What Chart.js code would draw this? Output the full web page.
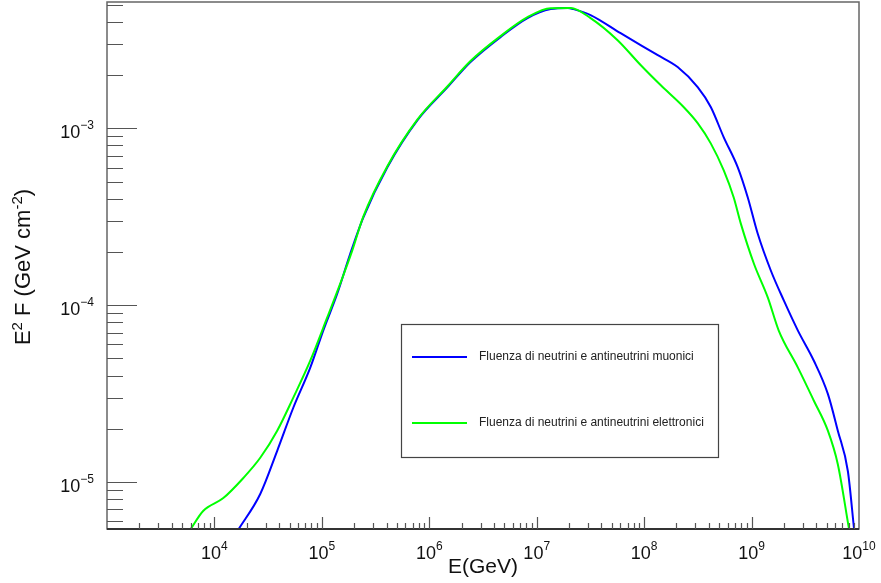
<!DOCTYPE html>
<html>
<head>
<meta charset="utf-8">
<script src="https://cdn.jsdelivr.net/npm/chart.js@4.4.1/dist/chart.umd.min.js"></script>
<style>
    html, body { margin: 0; padding: 0; background: #fff; }
    #wrap { width: 881px; height: 583px; }
</style>
</head>
<body>
<div id="wrap"><canvas id="fluence" width="881" height="583"></canvas></div>
<script>
// energies in GeV, E^2 F in GeV cm^-2
const muonEnergy = [1.66e4, 2.67e4, 3.84e4, 5.41e4, 7.80e4, 1.03e5, 1.39e5, 1.84e5, 2.43e5, 4.06e5,
    7.74e5, 1.48e6, 2.42e6, 4.60e6, 8.21e6, 1.35e7, 1.94e7, 2.20e7, 3.17e7, 6.04e7,
    1.34e8, 2.05e8, 3.15e8, 4.17e8, 5.51e8, 7.44e8, 9.22e8, 1.14e9, 1.51e9, 2.00e9,
    2.70e9, 3.80e9, 5.13e9, 6.35e9, 7.88e9, 8.98e9];
const muonFluence = [5.35e-6, 8.55e-6, 1.50e-5, 2.62e-5, 4.43e-5, 7.18e-5, 1.16e-4, 1.96e-4, 3.13e-4, 6.01e-4,
    1.11e-3, 1.71e-3, 2.37e-3, 3.28e-3, 4.20e-3, 4.72e-3, 4.79e-3, 4.72e-3, 4.37e-3, 3.45e-3,
    2.59e-3, 2.22e-3, 1.71e-3, 1.32e-3, 8.89e-4, 6.01e-4, 4.06e-4, 2.54e-4, 1.57e-4, 1.06e-4,
    7.18e-5, 4.85e-5, 3.15e-5, 1.95e-5, 1.15e-5, 5.48e-6];

const electronEnergy = [5.94e3, 7.85e3, 1.21e4, 1.85e4, 2.67e4, 3.84e4, 5.41e4, 7.80e4, 1.12e5, 1.48e5,
    1.92e5, 2.43e5, 4.06e5, 7.74e5, 1.48e6, 2.42e6, 4.60e6, 8.21e6, 1.35e7, 2.07e7,
    3.17e7, 5.66e7, 9.27e7, 1.43e8, 2.33e8, 3.15e8, 4.17e8, 5.51e8, 6.82e8, 7.93e8,
    1.05e9, 1.42e9, 1.79e9, 2.70e9, 3.80e9, 5.13e9, 6.35e9, 8.05e9];
const electronFluence = [5.35e-6, 6.85e-6, 8.11e-6, 1.05e-5, 1.37e-5, 1.95e-5, 2.99e-5, 4.85e-5, 8.49e-5, 1.32e-4,
    2.04e-4, 3.17e-4, 6.09e-4, 1.12e-3, 1.73e-3, 2.40e-3, 3.32e-3, 4.25e-3, 4.78e-3, 4.79e-3,
    4.20e-3, 3.15e-3, 2.28e-3, 1.75e-3, 1.32e-3, 1.07e-3, 8.22e-4, 5.78e-4, 4.06e-4, 2.90e-4,
    1.72e-4, 1.10e-4, 7.18e-5, 4.43e-5, 2.88e-5, 1.95e-5, 1.26e-5, 5.48e-6];

const seriesLabels = ['Fluenza di neutrini e antineutrini muonici', 'Fluenza di neutrini e antineutrini elettronici'];
const xTickExponents = [4, 5, 6, 7, 8, 9, 10];
const yTickExponents = [-5, -4, -3];

const FONT = '"Liberation Sans", Arial, Helvetica, sans-serif';

function toPoints(xs, ys) {
    return xs.map((x, i) => ({ x: x, y: ys[i] }));
}

// "10" with a raised exponent, ROOT style
function drawPower(ctx, exp, x, y, align) {
    const sup = exp < 0 ? '\u2212' + (-exp) : String(exp);
    ctx.font = '18px ' + FONT;
    const bw = ctx.measureText('10').width;
    ctx.font = '12px ' + FONT;
    const sw = ctx.measureText(sup).width;
    const left = align === 'center' ? x - (bw + sw) / 2 : x - bw - sw;
    ctx.textAlign = 'left';
    ctx.textBaseline = 'alphabetic';
    ctx.font = '18px ' + FONT;
    ctx.fillText('10', left, y);
    ctx.font = '12px ' + FONT;
    ctx.fillText(sup, left + bw, y - 9);
}

// draw a run of [text, size, raise] pieces centred on cx,cy
function drawPieces(ctx, pieces, cx, cy, rotate) {
    let total = 0;
    pieces.forEach(p => { ctx.font = p[1] + 'px ' + FONT; total += ctx.measureText(p[0]).width; });
    ctx.save();
    ctx.translate(cx, cy);
    if (rotate) ctx.rotate(-Math.PI / 2);
    ctx.textAlign = 'left';
    ctx.textBaseline = 'alphabetic';
    let pos = -total / 2;
    pieces.forEach(p => {
        ctx.font = p[1] + 'px ' + FONT;
        ctx.fillText(p[0], pos, -p[2]);
        pos += ctx.measureText(p[0]).width;
    });
    ctx.restore();
}

const rootFrame = {
    id: 'rootFrame',
    afterDraw(chart) {
        const ctx = chart.ctx;
        const area = chart.chartArea;
        const xs = chart.scales.x;
        const ys = chart.scales.y;

        ctx.save();
        ctx.fillStyle = '#111';

        // frame
        ctx.strokeStyle = '#666';
        ctx.lineWidth = 1.5;
        ctx.strokeRect(area.left, area.top, area.right - area.left, area.bottom - area.top);
        ctx.strokeStyle = '#333';
        ctx.lineWidth = 2;
        ctx.beginPath();
        ctx.moveTo(area.left, area.bottom);
        ctx.lineTo(area.right, area.bottom);
        ctx.stroke();

        // x ticks
        ctx.strokeStyle = '#555';
        ctx.lineWidth = 1.2;
        ctx.beginPath();
        for (let n = 3; n < 10; n++) {
            for (let k = 1; k < 10; k++) {
                const v = k * Math.pow(10, n);
                const px = Math.round(xs.getPixelForValue(v)) + 0.5;
                if (px < area.left + 1 || px > area.right - 1) continue;
                const len = k === 1 ? 12 : 6;
                ctx.moveTo(px, area.bottom);
                ctx.lineTo(px, area.bottom - len);
            }
        }
        // y ticks
        for (let n = -6; n < -2; n++) {
            for (let k = 1; k < 10; k++) {
                const v = k * Math.pow(10, n);
                const py = Math.round(ys.getPixelForValue(v)) + 0.5;
                if (py < area.top + 1 || py > area.bottom - 1) continue;
                const len = k === 1 ? 30 : 16;
                ctx.moveTo(area.left, py);
                ctx.lineTo(area.left + len, py);
            }
        }
        ctx.stroke();

        // tick labels
        xTickExponents.forEach(e => {
            drawPower(ctx, e, xs.getPixelForValue(Math.pow(10, e)), area.bottom + 30, 'center');
        });
        yTickExponents.forEach(e => {
            drawPower(ctx, e, 94, ys.getPixelForValue(Math.pow(10, e)) + 10, 'right');
        });

        // axis titles
        drawPieces(ctx, [['E(GeV)', 21, 0]], 483, 573, false);
        drawPieces(ctx, [['E', 22, 0], ['2', 15, 8], [' F (GeV cm', 22, 0], ['-2', 15, 8], [')', 22, 0]], 30, 267, true);

        // legend box
        const box = { left: 401, top: 324, right: 718, bottom: 457 };
        ctx.fillStyle = '#fff';
        ctx.fillRect(box.left, box.top, box.right - box.left, box.bottom - box.top);
        ctx.strokeStyle = '#444';
        ctx.lineWidth = 1.2;
        ctx.strokeRect(box.left + 0.5, box.top + 0.5, box.right - box.left, box.bottom - box.top);
        const rows = [357, 423];
        chart.data.datasets.forEach((ds, i) => {
            ctx.strokeStyle = ds.borderColor;
            ctx.lineWidth = 2;
            ctx.beginPath();
            ctx.moveTo(412, rows[i]);
            ctx.lineTo(467, rows[i]);
            ctx.stroke();
            ctx.fillStyle = '#222';
            ctx.font = '12px ' + FONT;
            ctx.textAlign = 'left';
            ctx.textBaseline = 'middle';
            ctx.fillText(ds.label, 479, rows[i]);
        });
        ctx.restore();
    }
};

const chart = new Chart(document.getElementById('fluence'), {
    type: 'line',
    data: {
        datasets: [
            {
                label: seriesLabels[0],
                data: toPoints(muonEnergy, muonFluence),
                borderColor: '#0000ff',
                borderWidth: 2,
                pointRadius: 0,
                cubicInterpolationMode: 'monotone',
                order: 1
            },
            {
                label: seriesLabels[1],
                data: toPoints(electronEnergy, electronFluence),
                borderColor: '#00ff00',
                borderWidth: 2,
                pointRadius: 0,
                cubicInterpolationMode: 'monotone',
                order: 0
            }
        ]
    },
    options: {
        responsive: false,
        devicePixelRatio: 1,
        animation: false,
        layout: { padding: { left: 107, top: 2, right: 22, bottom: 54 } },
        plugins: {
            legend: { display: false },
            tooltip: { enabled: false }
        },
        scales: {
            x: {
                type: 'logarithmic',
                min: 1e3,
                max: 1e10,
                ticks: { display: false },
                grid: { display: false },
                border: { display: false },
                afterFit: scale => { scale.height = 0; }
            },
            y: {
                type: 'logarithmic',
                min: 5.42e-6,
                max: 5.18e-3,
                ticks: { display: false },
                grid: { display: false },
                border: { display: false },
                afterFit: scale => { scale.width = 0; }
            }
        }
    },
    plugins: [rootFrame]
});
</script>
</body>
</html>
